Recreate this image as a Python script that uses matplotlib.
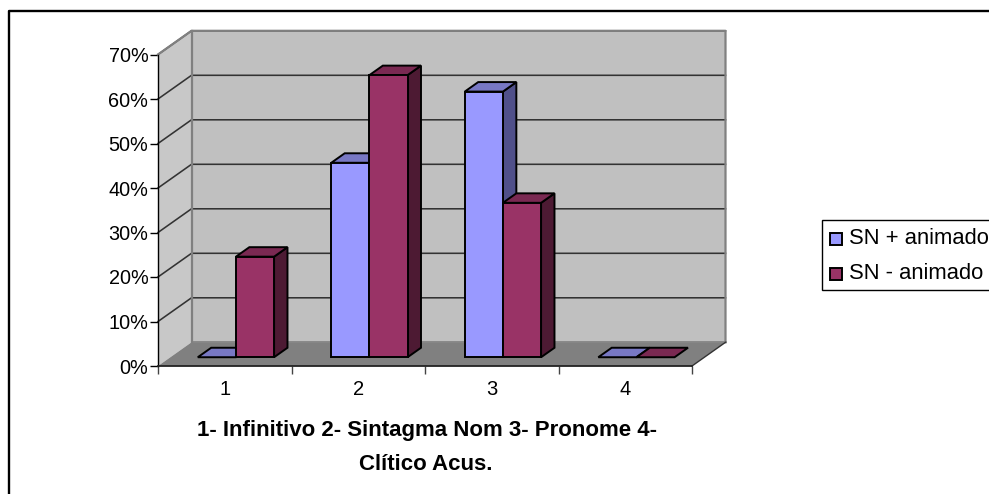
import matplotlib
matplotlib.use("Agg")
import matplotlib.pyplot as plt
from matplotlib.patches import Polygon, Rectangle

categories = ["1", "2", "3", "4"]
pct_ticks = [0, 10, 20, 30, 40, 50, 60, 70]
sn_mais = [0, 43.7, 59.7, 0]
sn_menos = [22.6, 63.4, 34.7, 0]

W, H = 989, 494
plt.rcParams["font.family"] = ["Liberation Sans", "DejaVu Sans"]

fig = plt.figure(figsize=(W / 100, H / 100), dpi=100, facecolor="white")

# full-figure layer for the outer frame and legend box, in pixels
bg = fig.add_axes([0, 0, 1, 1], zorder=0)
bg.set_xlim(0, W)
bg.set_ylim(H, 0)
bg.axis("off")
bg.plot([9, 9, W], [H, 11, 11], color="black", lw=1.7, solid_capstyle="butt")

# front plane of the 3d box: one unit per category, percent upwards
left, right, bottom, top = 158, 692, 366, 54.5
ax = fig.add_axes([left / W, 1 - bottom / H, (right - left) / W, (bottom - top) / H], zorder=1)
ax.set_xlim(0, 4)
ax.set_ylim(0, 70)
ax.patch.set_visible(False)

# depth of the box, as an offset in data units at depth=1
dx_unit = 33.5 / ((right - left) / 4)
dy_unit = 23.7 / ((bottom - top) / 70)


def proj(x, y, d):
    return (x + d * dx_unit, y + d * dy_unit)


def face(pts, color, z, edge="none", lw=0):
    ax.add_patch(Polygon([proj(*p) for p in pts], closed=True, facecolor=color, edgecolor=edge,
                         linewidth=lw, joinstyle="miter", clip_on=False, zorder=z))


# walls and floor
face([(0, 0, 1), (4, 0, 1), (4, 70, 1), (0, 70, 1)], "#c0c0c0", 1)
face([(0, 0, 0), (0, 0, 1), (0, 70, 1), (0, 70, 0)], "#c8c8c8", 1)
face([(0, 0, 0), (4, 0, 0), (4, 0, 1), (0, 0, 1)], "#808080", 1)

# gridlines run along the side wall and across the back wall
for p in pct_ticks[1:]:
    xs, ys = zip(proj(0, p, 0), proj(0, p, 1), proj(4, p, 1))
    ax.plot(xs, ys, color="#333333", lw=1.15, clip_on=False, zorder=2, solid_joinstyle="miter")

# wall edges
xs, ys = zip(proj(0, 70, 0), proj(0, 70, 1), proj(4, 70, 1), proj(4, 0, 1))
ax.plot(xs, ys, color="#808080", lw=1.6, clip_on=False, zorder=2)
xs, ys = zip(proj(0, 0, 1), proj(0, 70, 1))
ax.plot(xs, ys, color="#808080", lw=1.6, clip_on=False, zorder=2)
xs, ys = zip(proj(0, 0, 1), proj(4, 0, 1))
ax.plot(xs, ys, color="#808080", lw=1.2, clip_on=False, zorder=2)
xs, ys = zip(proj(4, 0, 0), proj(4, 0, 1))
ax.plot(xs, ys, color="#333333", lw=1.0, clip_on=False, zorder=2)

bar_w = 1 / 3.5
d0, d1 = 0.37, 0.77
blue = ("#9999ff", "#7878c4", "#50508a")
red = ("#993366", "#7a2952", "#4d1a33")


def bar3d(x, val, cols, z):
    ek = dict(edge="black", lw=1.4)
    x2 = x + bar_w
    if val > 0:
        face([(x, 0, d0), (x2, 0, d0), (x2, val, d0), (x, val, d0)], cols[0], z + 0.2, **ek)
        face([(x2, 0, d0), (x2, 0, d1), (x2, val, d1), (x2, val, d0)], cols[2], z, **ek)
    face([(x, val, d0), (x2, val, d0), (x2, val, d1), (x, val, d1)], cols[1], z + 0.1, **ek)


for i in range(len(categories)):
    gap = (1 - 2 * bar_w) / 2 - 0.009
    bar3d(i + gap, sn_mais[i], blue, 3 + i * 2)
    bar3d(i + gap + bar_w, sn_menos[i], red, 4 + i * 2)

# axes, ticks and tick labels
for s in ("top", "right"):
    ax.spines[s].set_visible(False)
ax.spines["left"].set_color("black")
ax.spines["left"].set_linewidth(1.0)
ax.spines["bottom"].set_color("#222222")
ax.spines["bottom"].set_linewidth(1.3)
for s in ax.spines.values():
    s.set_zorder(20)

ax.set_yticks(pct_ticks)
ax.set_yticklabels([f"{p}%" for p in pct_ticks], fontsize=14.3, color="black")
ax.set_xticks(range(len(categories) + 1))
ax.set_xticklabels([""] * (len(categories) + 1))
ax.tick_params(axis="y", length=6, width=1.0, pad=1)
ax.tick_params(axis="x", length=6, width=1.0, color="#444444")
for i, c in enumerate(categories):
    ax.annotate(c, (i + 0.5, 0), xytext=(0, -17), textcoords="offset points", ha="center", va="center",
                fontsize=14.5, annotation_clip=False)

fig.text(427 / W, 1 - 430 / H, "1- Infinitivo 2- Sintagma Nom 3- Pronome 4-", ha="center", va="center",
         fontsize=16, fontweight="bold")
fig.text(426 / W, 1 - 464 / H, "Clítico Acus.", ha="center", va="center", fontsize=16, fontweight="bold")

# legend box drawn by hand so the swatches keep their heavy outline
bg.add_patch(Rectangle((821.5, 220), 170, 70, facecolor="white", edgecolor="black", lw=1.0, clip_on=False))
for y, col, name in [(239, blue[0], "SN + animado"), (274, red[0], "SN - animado")]:
    bg.add_patch(Rectangle((829.5, y - 6), 12, 12, facecolor=col, edgecolor="black", lw=1.4))
    bg.text(849, y - 1, name, fontsize=15.8, va="center", ha="left")

fig.savefig("out.png", dpi=100)
